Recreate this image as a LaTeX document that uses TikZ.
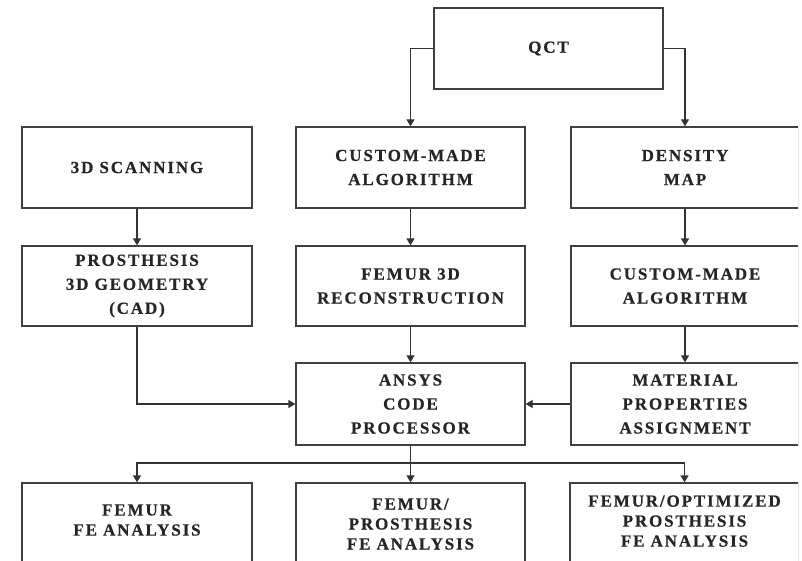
\documentclass[tikz,border=0pt]{standalone}
\usepackage{fontspec}
\setmainfont{Liberation Serif}[LetterSpace=11, BoldFont={Liberation Serif Bold}, BoldFeatures={LetterSpace=11, FakeBold=0.6}]
\usepackage{tikz}
\usetikzlibrary{arrows.meta}
\tikzset{
    box/.style={rectangle, draw=black!75, line width=1.3pt, text=black!85, align=center,
        font=\bfseries\fontsize{17}{24}\selectfont, inner sep=0pt, minimum height=81pt},
    lowbox/.style={box, font=\bfseries\fontsize{17}{20}\selectfont},
    arr/.style={draw=black!80, line width=1.3pt, -{Triangle[width=8pt,length=7pt]}}
}

\begin{document}
\begin{tikzpicture}[x=1pt, y=-1pt]
        \useasboundingbox (0,0) rectangle (802,561);
        \clip (0,0) rectangle (798,561);
        \node (qct) [box, minimum width=229pt] at (548.5, 48.5) {QCT};
        \node (scan) [box, minimum width=230pt] at (137, 167.5) {3D SCANNING};
        \node (alg) [box, minimum width=229pt] at (410.5, 167.5) {CUSTOM-MADE\\ALGORITHM};
        \node (dens) [box, minimum width=228pt] at (685, 167.5) {DENSITY\\MAP};
        \node (cad) [box, minimum width=230pt, minimum height=80pt] at (137, 286) {PROSTHESIS\\3D GEOMETRY\\(CAD)};
        \node (recon) [box, minimum width=229pt, minimum height=80pt] at (410.5, 286) {FEMUR 3D\\RECONSTRUCTION};
        \node (alg2) [box, minimum width=228pt, minimum height=80pt] at (685, 286) {CUSTOM-MADE\\ALGORITHM};
        \node (ansys) [box, minimum width=229pt, minimum height=82pt] at (410.5, 404) {ANSYS\\CODE\\PROCESSOR};
        \node (matprop) [box, minimum width=228pt, minimum height=82pt] at (685, 404) {MATERIAL\\PROPERTIES\\ASSIGNMENT};
        \node (feA) [lowbox, minimum width=230pt, minimum height=82pt] at (137, 524) {FEMUR\\FE ANALYSIS\\[-12pt]};
        \node (feB) [lowbox, minimum width=229pt, minimum height=82pt] at (410.5, 524) {FEMUR/\\PROSTHESIS\\FE ANALYSIS};
        \node (feC) [lowbox, minimum width=229pt, minimum height=82pt] at (684.5, 524) {FEMUR/OPTIMIZED\\PROSTHESIS\\FE ANALYSIS\\[-14pt]};
        \coordinate (split) at (410.5, 463);

        \draw[arr] (qct.west) -| (alg.north);
        \draw[arr] (qct.east) -| (dens.north);
        \draw[arr] (scan) -- (cad);
        \draw[arr] (alg) -- (recon);
        \draw[arr] (dens) -- (alg2);
        \draw[arr] (recon) -- (ansys);
        \draw[arr] (alg2) -- (matprop);
        \draw[arr] (cad.south) |- (ansys.west);
        \draw[arr] (matprop) -- (ansys);
        \draw[arr] (ansys) -- (feB);
        \draw[arr] (split) -| (feA.north);
        \draw[arr] (split) -| (feC.north);
\end{tikzpicture}
\end{document}
